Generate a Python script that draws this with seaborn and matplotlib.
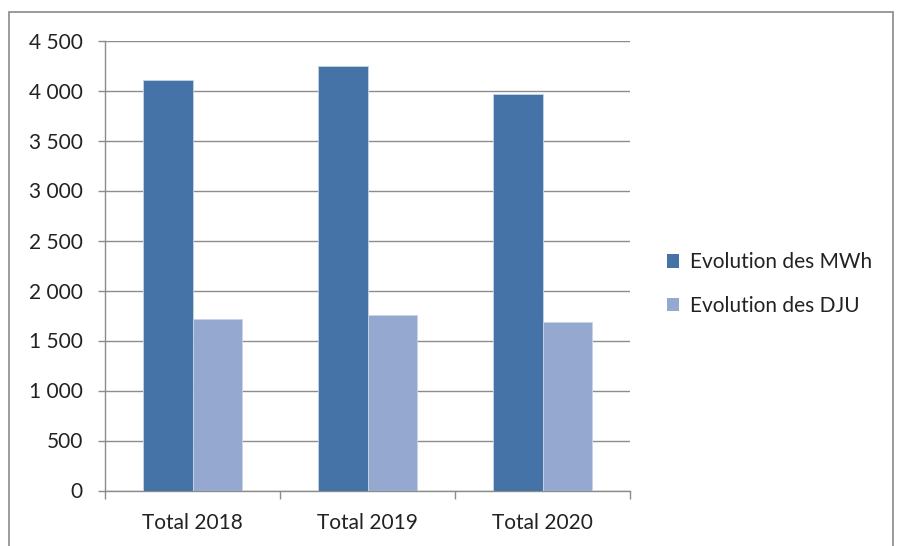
import matplotlib
matplotlib.use("Agg")
import matplotlib.pyplot as plt
import matplotlib.ticker as mticker
from matplotlib.patches import Rectangle, Patch
import seaborn as sns
import pandas as pd

categories = ["Total 2018", "Total 2019", "Total 2020"]
series_names = ["Evolution des MWh", "Evolution des DJU"]
mwh = [4110, 4245, 3965]
dju = [1715, 1755, 1682]
colors = ["#4572A7", "#95A9D0"]

df = pd.DataFrame({
    "cat": categories * 2,
    "serie": [series_names[0]] * 3 + [series_names[1]] * 3,
    "val": mwh + dju,
})

sns.set_theme(style="white")
plt.rcParams["font.family"] = ["Lato", "DejaVu Sans"]

W, H = 901, 546
FS = 15
fig = plt.figure(figsize=(W / 100, H / 100), dpi=100)
ax = fig.add_axes([105 / W, 1 - 490.5 / H, (630 - 105) / W, (490.5 - 40.5) / H])

sns.barplot(data=df, x="cat", y="val", hue="serie", order=categories,
            hue_order=series_names, palette=colors, width=0.571, gap=0,
            saturation=1, errorbar=None, ax=ax, legend=False,
            edgecolor="#c8d4e6", linewidth=0.6, zorder=3)

ax.set_ylim(0, 4500)
ax.set_xlim(-0.5, 2.5)
ax.yaxis.set_major_locator(mticker.MultipleLocator(500))
ax.yaxis.set_major_formatter(mticker.FuncFormatter(lambda v, p: f"{int(v):,}".replace(",", " ")))
ax.grid(axis="y", color="#8c8c8c", linewidth=1.0, zorder=0)
ax.set_axisbelow(True)
ax.set_xlabel("")
ax.set_ylabel("")

for s in ["top", "right"]:
    ax.spines[s].set_visible(False)
for s in ["left", "bottom"]:
    ax.spines[s].set_color("#8c8c8c")
    ax.spines[s].set_linewidth(1.0)

ax.tick_params(axis="y", which="major", length=5, width=1, color="#8c8c8c",
               labelsize=FS, labelcolor="#222222", pad=11, left=True)
ax.set_xticks([0, 1, 2])
ax.set_xticklabels(categories)
ax.tick_params(axis="x", which="major", length=0, labelsize=FS,
               labelcolor="#222222", pad=16)
ax.set_xticks([-0.5, 0.5, 1.5, 2.5], minor=True)
ax.tick_params(axis="x", which="minor", length=6, width=1, color="#8c8c8c",
               bottom=True)

handles = [Patch(facecolor=c, edgecolor="none") for c in colors]
fig.legend(handles, series_names, loc="center left",
           bbox_to_anchor=(648 / W, 1 - 284 / H), frameon=False,
           fontsize=FS, handlelength=0.6, handleheight=0.6,
           handletextpad=0.5, labelspacing=1.12, labelcolor="#222222")

fig.patches.append(Rectangle((9 / W, -0.05), (893 - 9) / W, 1 - 12 / H + 0.05,
                             transform=fig.transFigure, fill=False,
                             edgecolor="#8a8a8a", linewidth=1.2))

fig.savefig("out.png", dpi=100, facecolor="white")
